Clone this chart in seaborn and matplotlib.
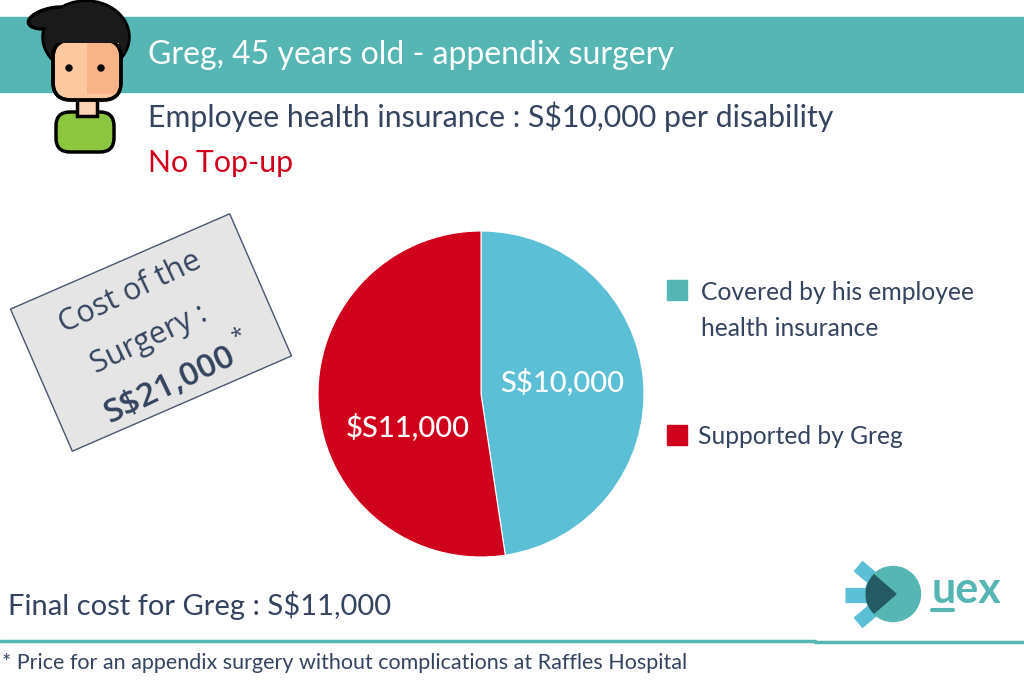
import matplotlib
matplotlib.use("Agg")
import matplotlib.pyplot as plt
import matplotlib.patches as mpatches
import matplotlib.transforms as mtrans
import seaborn as sns

# Pie data
segments = ["Covered by his employee", "Supported by Greg"]
amounts = [10000, 11000]
pie_labels = ["S$10,000", "$S11,000"]
pie_colors = ["#5BC0D6", "#D0011B"]
legend_colors = ["#55B6B3", "#D0011B"]

title = "Greg, 45 years old - appendix surgery"
subtitle = "Employee health insurance : S$10,000 per disability"
topup = "No Top-up"
final_cost = "Final cost for Greg : S$11,000"
footnote = "* Price for an appendix surgery without complications at Raffles Hospital"
box_lines = ["Cost of the", "Surgery :", "S$21,000"]

navy = "#34435E"
teal = "#55B6B3"

sns.set_theme(style="white")
plt.rcParams["font.family"] = ["Lato", "DejaVu Sans"]

W, H = 1024, 700
fig = plt.figure(figsize=(W / 100, H / 100), dpi=100)
bg = fig.add_axes([0, 0, 1, 1])
bg.set_xlim(0, W)
bg.set_ylim(H, 0)
bg.axis("off")

# header band
bg.add_patch(mpatches.Rectangle((0, 17), W, 75, color=teal, zorder=1))
bg.text(148, 55, title, color="white", fontsize=23, va="center", ha="left", zorder=5)
bg.text(148, 117, subtitle, color=navy, fontsize=21.8, va="center", ha="left")
bg.text(148, 163, topup, color="#D0011B", fontsize=21.8, va="center", ha="left")

# avatar
ol = dict(edgecolor="black", linewidth=2.5)
bg.add_patch(mpatches.FancyBboxPatch((56, 112), 58, 40, boxstyle="round,pad=0,rounding_size=14",
                                     facecolor="#8CC63F", zorder=3, **ol))
bg.add_patch(mpatches.Rectangle((77, 96), 20, 20, facecolor="#FBD3B5", zorder=4, **ol))
bg.add_patch(mpatches.Ellipse((86, 37), 86, 72, facecolor="#1A1A1A", zorder=5, **ol))
bg.add_patch(mpatches.Ellipse((52, 18), 48, 20, angle=-12, facecolor="#1A1A1A", zorder=5, **ol))
bg.add_patch(mpatches.Ellipse((86, 37), 84, 70, facecolor="#1A1A1A", zorder=5, linewidth=0))
bg.add_patch(mpatches.FancyBboxPatch((53, 40), 68, 60, boxstyle="round,pad=0,rounding_size=18",
                                     facecolor="#FBC8A0", zorder=6, **ol))
bg.add_patch(mpatches.Rectangle((87, 42), 32, 52, facecolor="#F6B488", zorder=6, linewidth=0))
bg.add_patch(mpatches.FancyBboxPatch((53, 40), 68, 60, boxstyle="round,pad=0,rounding_size=18",
                                     facecolor="none", zorder=7, **ol))
bg.add_patch(mpatches.Rectangle((53, 37), 68, 6, facecolor="#1A1A1A", zorder=7, linewidth=0))
for ex in (69, 101):
    bg.add_patch(mpatches.Circle((ex, 68), 3, color="black", zorder=8))

# rotated cost box
angle = 23.5
box = mpatches.Rectangle((-119.5, -77.5), 239, 155, facecolor="#E5E5E5", edgecolor="#4A5670",
                         linewidth=1)
box.set_transform(mtrans.Affine2D().rotate_deg(-angle).translate(151, 332.5) + bg.transData)
bg.add_patch(box)
boxfont = ["Open Sans", "DejaVu Sans"]
tang = 25.5
bg.text(130, 293, box_lines[0], color=navy, fontsize=22, rotation=tang, ha="center", va="center",
        family=boxfont)
bg.text(149, 340, box_lines[1], color=navy, fontsize=22, rotation=tang, ha="center", va="center",
        family=boxfont)
bg.text(170, 385, box_lines[2], color=navy, fontsize=24, rotation=tang, ha="center", va="center",
        fontweight="semibold", family=boxfont)
bg.text(238, 336, "*", color=navy, fontsize=16, rotation=tang, ha="center", va="center",
        family=boxfont)

# legend
for c, y in zip(legend_colors, [290, 435]):
    bg.add_patch(mpatches.Rectangle((667, y - 10), 20, 20, color=c))
bg.text(701, 292, segments[0], color=navy, fontsize=17.7, va="center")
bg.text(701, 329, "health insurance", color=navy, fontsize=17.7, va="center")
bg.text(698, 437, segments[1], color=navy, fontsize=17.7, va="center")

# bottom
bg.text(8, 605, final_cost, color=navy, fontsize=21, va="center", ha="left")
bg.plot([0, 815], [641, 641], color=teal, linewidth=2.5)
bg.plot([815, W], [642, 642], color=teal, linewidth=2.5)
bg.text(2, 663, footnote, color=navy, fontsize=15.5, va="center", ha="left")

# logo
bg.plot([845, 872], [594.5, 594.5], color="#5BC0D6", linewidth=11, solid_capstyle="butt", zorder=2)
bg.plot([858, 884], [566, 588], color="#5BC0D6", linewidth=10, solid_capstyle="butt", zorder=2)
bg.plot([858, 884], [623, 601], color="#5BC0D6", linewidth=10, solid_capstyle="butt", zorder=2)
circ = mpatches.Circle((893, 594), 27.5, color=teal, zorder=3)
bg.add_patch(circ)
dark = mpatches.Polygon([[866, 568], [896, 594], [866, 620]], closed=True, color="#235A63",
                        zorder=4)
bg.add_patch(dark)
dark.set_clip_path(circ)
bg.text(932, 603, "uex", color=teal, fontsize=31, fontweight="bold", va="baseline", ha="left")
bg.plot([932, 953], [610, 610], color=teal, linewidth=3)

# pie
cx, cy, r = 481, 394, 163
pax = fig.add_axes([(cx - r) / W, 1 - (cy + r) / H, 2 * r / W, 2 * r / H])
wedges, texts = pax.pie(amounts, colors=pie_colors, startangle=90, counterclock=False,
                        labels=pie_labels, labeldistance=0.55,
                        wedgeprops=dict(linewidth=0.8, edgecolor="white"),
                        textprops=dict(color="white", fontsize=21, fontweight="medium"))
texts[0].set_position((0.5, 0.074))
texts[1].set_position((-0.45, -0.2))
for t in texts:
    t.set_ha("center")
    t.set_va("center")
pax.set_xlim(-1, 1)
pax.set_ylim(-1, 1)
pax.set_aspect("equal")

fig.savefig("out.png", dpi=100)
